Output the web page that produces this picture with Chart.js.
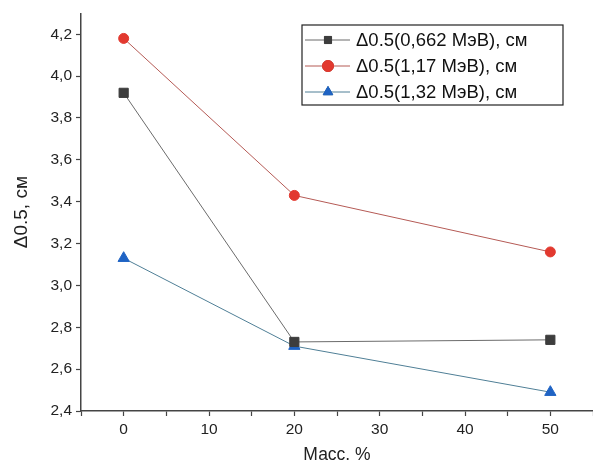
<!DOCTYPE html>
<html>
<head>
<meta charset="utf-8">
<script src="https://cdn.jsdelivr.net/npm/chart.js@4"></script>
<style>
  body { margin: 0; background: #fff; }
</style>
</head>
<body>
<canvas id="massChart" width="593" height="470"></canvas>
<script>
// значения
const massPercent = [0, 20, 50];
const d662 = [3.92, 2.73, 2.74];
const d117 = [4.18, 3.43, 3.16];
const d132 = [3.13, 2.71, 2.49];
const seriesNames = ['Δ0.5(0,662 МэВ), см', 'Δ0.5(1,17 МэВ), см', 'Δ0.5(1,32 МэВ), см'];

const fontFamily = '"Liberation Sans", Arial, sans-serif';

function toPoints(ys) {
    return massPercent.map((x, i) => ({ x: x, y: ys[i] }));
}

// легенда в рамке внутри области графика
const boxLegend = {
    id: 'boxLegend',
    afterDraw(chart) {
        const ctx = chart.ctx;
        const left = 302, top = 25, w = 261, h = 80, rowH = 26;
        ctx.save();
        ctx.fillStyle = '#fff';
        ctx.fillRect(left, top, w, h);
        ctx.strokeStyle = '#222';
        ctx.lineWidth = 1.2;
        ctx.strokeRect(left, top, w, h);
        chart.data.datasets.forEach((ds, i) => {
            const y = top + 15 + i * rowH;
            ctx.strokeStyle = ds.borderColor;
            ctx.lineWidth = 1;
            ctx.beginPath();
            ctx.moveTo(left + 3, y);
            ctx.lineTo(left + 48, y);
            ctx.stroke();
            Chart.helpers.drawPoint(ctx, {
                pointStyle: ds.pointStyle,
                radius: ds.pointStyle === 'rect' ? 5 : 5.5,
                rotation: 0,
                borderWidth: 1
            }, left + 26, y);
            ctx.fillStyle = ds.pointBackgroundColor;
            ctx.strokeStyle = ds.pointBorderColor;
            ctx.fill();
            ctx.stroke();
            ctx.fillStyle = '#111';
            ctx.font = '18.5px ' + fontFamily;
            ctx.textBaseline = 'middle';
            ctx.fillText(ds.label, left + 54, y + 1);
        });
        ctx.restore();
    }
};

const data = {
    datasets: [{
            label: seriesNames[0],
            data: toPoints(d662),
            borderColor: '#6b6b6b',
            borderWidth: 1,
            pointStyle: 'rect',
            pointRadius: 6.5,
            pointBackgroundColor: '#3d3d3d',
            pointBorderColor: '#3d3d3d'
        },
        {
            label: seriesNames[1],
            data: toPoints(d117),
            borderColor: '#b55a55',
            borderWidth: 1,
            pointStyle: 'circle',
            pointRadius: 5,
            pointBackgroundColor: '#e2392f',
            pointBorderColor: '#e2392f'
        },
        {
            label: seriesNames[2],
            data: toPoints(d132),
            borderColor: '#4f7f96',
            borderWidth: 1,
            pointStyle: 'triangle',
            pointRadius: 6.5,
            pointBackgroundColor: '#1f63c4',
            pointBorderColor: '#1f63c4'
        }
    ]
};

const config = {
    type: 'line',
    data: data,
    options: {
        responsive: false,
        animation: false,
        layout: { autoPadding: false, padding: { top: 13, right: 0, left: 0, bottom: 0 } },
        plugins: {
            legend: { display: false },
            tooltip: { enabled: false }
        },
        scales: {
            x: {
                type: 'linear',
                min: -5,
                max: 55,
                ticks: {
                    stepSize: 5,
                    color: '#222',
                    font: { family: fontFamily, size: 15.5 },
                    padding: 4,
                    callback: v => (v % 10 === 0 && v >= 0 && v <= 50) ? String(v) : ''
                },
                grid: { drawOnChartArea: false, tickLength: 5, tickColor: '#444', tickWidth: 1.2 },
                border: { color: '#444', width: 1.5 },
                title: {
                    display: true,
                    text: 'Масс. %',
                    color: '#222',
                    font: { family: fontFamily, size: 17.5 },
                    padding: { top: 8 }
                },
                afterFit: scale => {
                    scale.height = 59;
                    scale.paddingLeft = 0;
                    scale.paddingRight = 0;
                }
            },
            y: {
                min: 2.4,
                max: 4.3,
                ticks: {
                    stepSize: 0.1,
                    color: '#222',
                    font: { family: fontFamily, size: 15.5 },
                    padding: 4,
                    callback: v => {
                        const k = Math.round(v * 10);
                        return (k % 2 === 0) ? (k / 10).toFixed(1).replace('.', ',') : '';
                    }
                },
                grid: { drawOnChartArea: false, tickLength: 5, tickColor: '#444', tickWidth: 1.2 },
                border: { color: '#444', width: 1.5 },
                title: {
                    display: true,
                    text: 'Δ0.5, см',
                    color: '#222',
                    font: { family: fontFamily, size: 19 },
                    padding: { top: 10, bottom: 4 }
                },
                afterFit: scale => { scale.width = 81; }
            }
        }
    },
    plugins: [boxLegend]
};

const massChart = new Chart('massChart', config);
</script>
</body>
</html>
